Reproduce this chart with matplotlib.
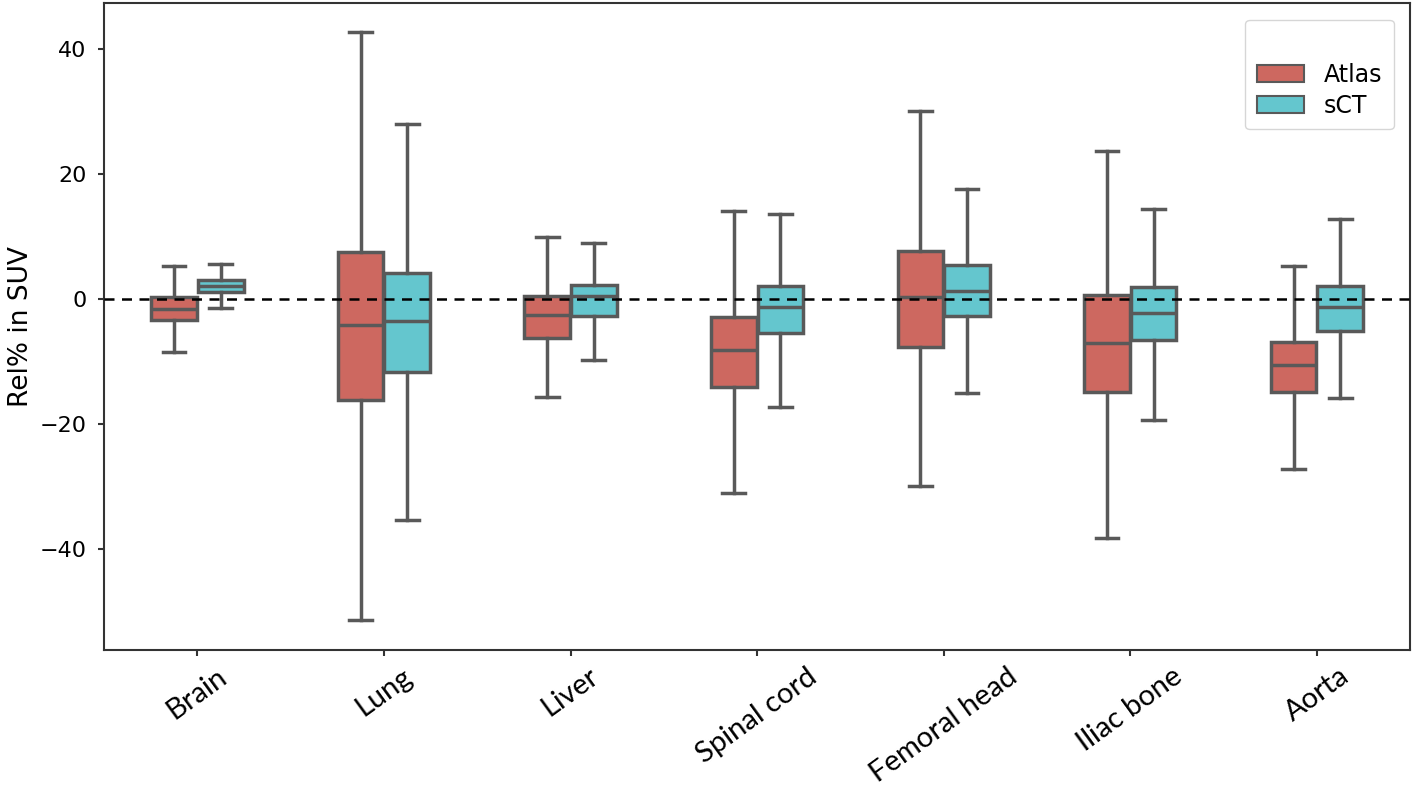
import matplotlib
matplotlib.use("Agg")
import matplotlib.pyplot as plt
from matplotlib.patches import Patch

# Organs and per-method box statistics
organs = ["Brain", "Lung", "Liver", "Spinal cord", "Femoral head", "Iliac bone", "Aorta"]
methods = ["Atlas", "sCT"]

atlas_low = [-8.4, -51.4, -15.7, -31.0, -30.0, -38.2, -27.2]
atlas_q1 = [-3.4, -16.2, -6.2, -14.1, -7.6, -14.8, -14.9]
atlas_med = [-1.6, -4.2, -2.5, -8.2, 0.4, -7.1, -10.6]
atlas_q3 = [0.3, 7.6, 0.5, -2.8, 7.7, 0.6, -6.8]
atlas_high = [5.3, 42.8, 9.9, 14.1, 30.2, 23.8, 5.3]

sct_low = [-1.5, -35.4, -9.8, -17.2, -15.0, -19.3, -15.8]
sct_q1 = [1.1, -11.7, -2.7, -5.5, -2.7, -6.6, -5.1]
sct_med = [2.1, -3.5, 0.5, -1.2, 1.3, -2.3, -1.2]
sct_q3 = [3.0, 4.2, 2.2, 2.1, 5.4, 1.9, 2.1]
sct_high = [5.7, 28.1, 9.0, 13.7, 17.7, 14.4, 12.8]

colors = ["#cd6860", "#64c6ce"]
edge = "#595959"


def make_stats(low, q1, med, q3, high):
    return [dict(whislo=a, q1=b, med=c, q3=d, whishi=e, fliers=[])
            for a, b, c, d, e in zip(low, q1, med, q3, high)]


series = [make_stats(atlas_low, atlas_q1, atlas_med, atlas_q3, atlas_high),
          make_stats(sct_low, sct_q1, sct_med, sct_q3, sct_high)]

fig = plt.figure(figsize=(14.12, 7.86), dpi=100)
ax = fig.add_axes([0.0737, 0.173, 0.925, 0.823])

box_w = 0.245
offsets = [-0.125, 0.125]
for stats, off, col in zip(series, offsets, colors):
    pos = [i + off for i in range(len(organs))]
    ax.bxp(stats, positions=pos, widths=box_w, patch_artist=True,
           showfliers=False, manage_ticks=False,
           boxprops=dict(facecolor=col, edgecolor=edge, linewidth=2.5),
           medianprops=dict(color=edge, linewidth=2.5),
           whiskerprops=dict(color=edge, linewidth=2.5),
           capprops=dict(color=edge, linewidth=2.5))

ax.axhline(0, color="black", linestyle="--", linewidth=1.8, dashes=(4, 3), zorder=3)

ax.set_xlim(-0.5, len(organs) - 0.5)
ax.set_ylim(-56.2, 47.4)
ax.set_xticks(range(len(organs)))
ax.set_xticklabels(organs, rotation=36, ha="center", fontsize=21, family="Lato")
ax.set_yticks([-40, -20, 0, 20, 40])
ax.set_yticklabels(["\u221240", "\u221220", "0", "20", "40"], fontsize=16)
ax.tick_params(axis="both", length=4.5, width=1.5, color="#333333")
ax.tick_params(axis="y", pad=8)
ax.tick_params(axis="x", pad=5)
ax.set_ylabel("Rel% in SUV", fontsize=19, labelpad=4)
for s in ax.spines.values():
    s.set_linewidth(1.5)
    s.set_color("#333333")

handles = [Patch(facecolor=c, edgecolor=edge, linewidth=1.5, label=m)
           for c, m in zip(colors, methods)]
ax.legend(handles=handles, title=" ", loc="upper right", fontsize=17,
          title_fontsize=17, borderpad=0.5, handlelength=2.0,
          labelspacing=0.3, borderaxespad=0.7)

fig.savefig("out.png", dpi=100)
